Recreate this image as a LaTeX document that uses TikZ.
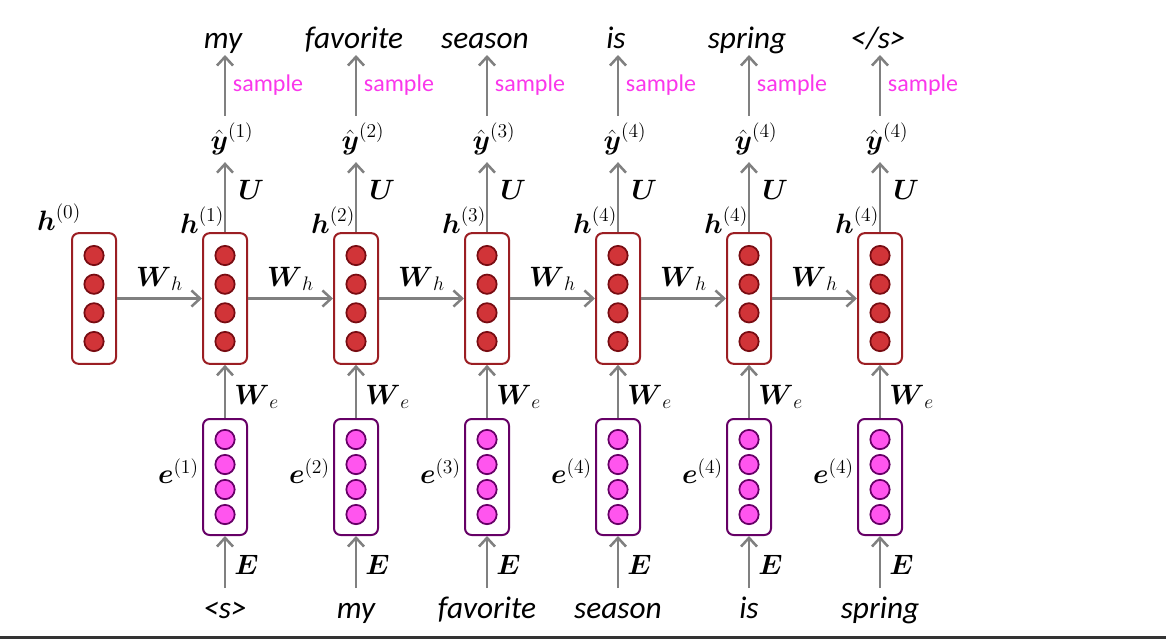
\documentclass[tikz,border=0pt]{standalone}
\usepackage{fix-cm}
\usepackage{amsmath}
\usepackage[no-math]{fontspec}
\newfontfamily\wordfont{Carlito}
\usetikzlibrary{arrows.meta}

\definecolor{hidred}{RGB}{209,52,56}
\definecolor{hiddark}{RGB}{120,12,18}
\definecolor{hidbox}{RGB}{155,30,35}
\definecolor{embpink}{RGB}{255,85,238}
\definecolor{embdark}{RGB}{102,0,102}
\definecolor{flowgray}{RGB}{128,128,128}
\definecolor{samplepink}{RGB}{250,55,235}

\tikzset{
  hbox/.style={draw=hidbox, line width=1.5pt, rounded corners=5pt, minimum width=33pt, minimum height=98pt, inner sep=0pt},
  ebox/.style={draw=embdark, line width=1.5pt, rounded corners=5pt, minimum width=33pt, minimum height=87pt, inner sep=0pt},
  hunit/.style={circle, draw=hiddark, fill=hidred, line width=1.3pt, minimum size=14.5pt, inner sep=0pt},
  eunit/.style={circle, draw=embdark, fill=embpink, line width=1.3pt, minimum size=14.5pt, inner sep=0pt},
  flow/.style={draw=flowgray, line width=1.9pt, -{Straight Barb[length=6.5pt,width=12pt]}},
  mathlbl/.style={font=\fontsize{21}{25}\selectfont, inner sep=0pt},
  word/.style={font=\wordfont\itshape\fontsize{23.5}{28}\selectfont, text height=16pt, text depth=4.5pt, inner xsep=0pt},
  samplelbl/.style={font=\wordfont\fontsize{18}{22}\selectfont, text=samplepink, inner sep=0pt}
}

\begin{document}
\begin{tikzpicture}[x=0.75pt,y=-0.75pt]
\useasboundingbox (0,0) rectangle (1166,639);
\fill[black!80] (0,636) rectangle (1166,639);

% initial hidden state
\node[hbox] (h0) at (94,298.5) {};
\foreach \k/\dy in {1/-43,2/-14.3,3/14.3,4/43}
  \node[hunit] (h0-\k) at (94,298.5+\dy) {};
\node[mathlbl] (h0lbl) at (59,217) {$\boldsymbol{h}^{(0)}$};

% one column per time step
\foreach \i/\c/\t/\top/\bot [remember=\i as \j (initially 0)] in
  {1/225/1/my/{<s>}, 2/356/2/favorite/my, 3/487/3/season/favorite,
   4/618/4/is/season, 5/749/4/spring/is, 6/880/4/{</s>}/spring}{
  \node[hbox] (h\i) at (\c,298.5) {};
  \foreach \k/\dy in {1/-43,2/-14.3,3/14.3,4/43}
    \node[hunit] (h\i-\k) at (\c,298.5+\dy) {};
  \node[ebox] (e\i) at (\c,477) {};
  \foreach \k/\dy in {1/-37.5,2/-12.5,3/12.5,4/37.5}
    \node[eunit] (e\i-\k) at (\c,477+\dy) {};

  \node[mathlbl] (hl\i) at (\c-23,220) {$\boldsymbol{h}^{(\t)}$};
  \node[mathlbl, anchor=east] (el\i) at (\c-26,471) {$\boldsymbol{e}^{(\t)}$};
  \node[mathlbl, inner ysep=5pt] (yh\i) at (\c+7,139) {$\hat{\boldsymbol{y}}^{(\t)}$};
  \node[word, anchor=south, inner ysep=0pt] (out\i) at (\c-2,55) {\top};
  \node[word, anchor=north, inner ysep=7pt] (in\i) at (\c,588) {\bot};

  \draw[flow] (in\i.north -| e\i) -- (e\i.south)
    node[mathlbl, pos=0.45, right=6pt] {$\boldsymbol{E}$};
  \draw[flow] (e\i.north) -- (h\i.south)
    node[mathlbl, pos=0.4, right=6pt] {$\boldsymbol{W}_e$};
  \draw[flow] (h\i.north) -- (yh\i.south -| h\i.north)
    node[mathlbl, pos=0.6, right=9pt] {$\boldsymbol{U}$};
  \draw[flow] (yh\i.north -| h\i.north) -- (out\i.south -| h\i.north)
    node[samplelbl, midway, right=5pt] {sample};
  \draw[flow] (h\j) -- (h\i)
    node[mathlbl, midway, above=5pt] {$\boldsymbol{W}_h$};
}
\end{tikzpicture}
\end{document}
